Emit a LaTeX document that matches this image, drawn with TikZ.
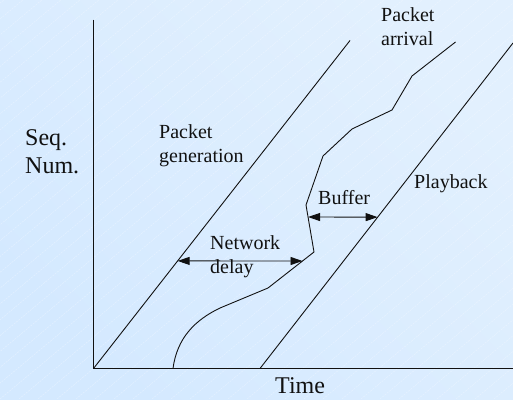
\documentclass[tikz,border=0pt]{standalone}
\usepackage{fontspec}
\setmainfont{Liberation Serif}
\usepackage{xcolor}
\usepackage{tikz}
\usetikzlibrary{arrows.meta,calc}
\definecolor{ink}{HTML}{111111}
\definecolor{skyhi}{HTML}{E2F0FE}
\definecolor{skymid}{HTML}{92C7FF}
\definecolor{skylo}{HTML}{D4E9FF}

\tikzset{
  lbl/.style={font=\fontsize{20}{24}\selectfont, align=left, anchor=base west, inner sep=0pt, text=ink},
  biglbl/.style={font=\fontsize{24}{28}\selectfont, align=left, anchor=base west, inner sep=0pt, text=ink},
  trace/.style={line width=0.9pt, color=ink},
  gaparrow/.style={{Triangle[length=12pt,width=8pt]}-{Triangle[length=12pt,width=8pt]}, line width=0.9pt, color=ink},
}

\begin{document}
\begin{tikzpicture}[x=1pt, y=-1pt]
  \def\W{513}
  \def\H{399}
  \useasboundingbox (0,0) rectangle (\W,\H);
  \shade[left color=skyhi, middle color=skymid, right color=skylo, shading angle=-45] (0,0) rectangle (\W,\H);

  % faint hatching
  \begin{scope}
    \clip (0,0) rectangle (\W,\H);
    \foreach \k in {-27,...,28}
      \draw[white, opacity=0.4, line width=0.4pt, dash pattern=on 2pt off 1pt] ({\k*19},\H) -- ++(480,-400);
  \end{scope}

  % axes
  \coordinate (o) at (93.5,368.5);
  \coordinate (ytop) at (93.5,19.5);
  \coordinate (xend) at (\W,368.5);
  \draw[line width=1.2pt, color=ink] (ytop) -- (o) -- (xend);

  % generation and playback
  \coordinate (gen1) at (350,40.5);
  \coordinate (play0) at (260,368.5);
  \coordinate (play1) at (\W,43);
  \draw[trace] (o) -- (gen1);
  \draw[trace] (play0) -- (play1);

  % arrival
  \coordinate (a0) at (173,368.5);
  \coordinate (a1) at (220,308);
  \coordinate (a2) at (268,288);
  \coordinate (a3) at (314,252);
  \coordinate (a4) at (306,205);
  \coordinate (a5) at (323,156);
  \coordinate (a6) at (352,129);
  \coordinate (a7) at (392,110);
  \coordinate (a8) at (412,76);
  \coordinate (a9) at (455.5,42);
  \draw[trace] (a0) .. controls (177,338) and (195,320) .. (a1) -- (a2) -- (a3) -- (a4) -- (a5) -- (a6) -- (a7) -- (a8) -- (a9);

  % delay and buffer
  \coordinate (dl) at ($(o)!0.328!(gen1)$);
  \coordinate (dr) at ($(a2)!0.75!(a3)$);
  \coordinate (bl) at ($(a3)!0.745!(a4)$);
  \coordinate (br) at ($(play0)!0.465!(play1)$);
  \draw[gaparrow] (dl) -- (dr);
  \draw[gaparrow] (bl) -- (br);

  \node[biglbl] (seq) at (25,173) {Seq.\\Num.};
  \node[biglbl] (time) at (275,393) {Time};
  \node[lbl] (gen) at (159,162.5) {Packet\\generation};
  \node[lbl] (arr) at (381,45) {Packet\\arrival};
  \node[lbl] (net) at (210,273) {Network\\delay};
  \node[lbl] (buf) at (318,204) {Buffer};
  \node[lbl] (play) at (414,188) {Playback};
\end{tikzpicture}
\end{document}
